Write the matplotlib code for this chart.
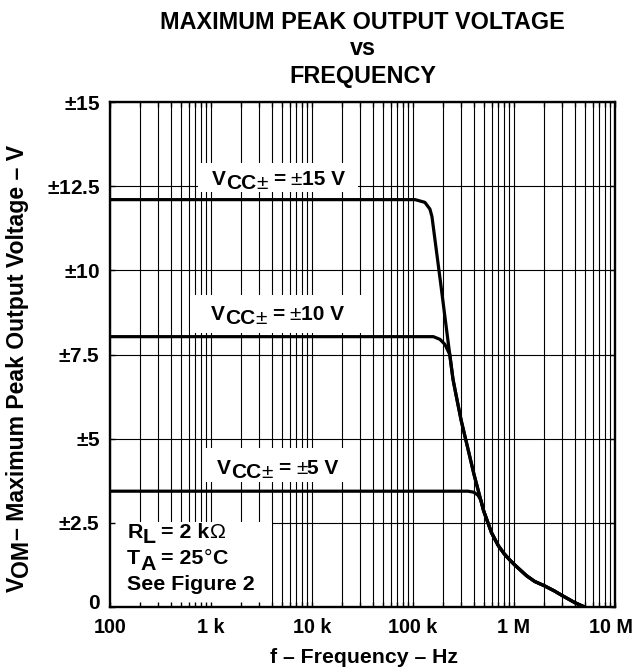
import matplotlib
matplotlib.use("Agg")
import matplotlib.pyplot as plt
from matplotlib.patches import Rectangle
from matplotlib.transforms import ScaledTranslation

plt.rcParams['font.family'] = ['Liberation Sans', 'DejaVu Sans']
plt.rcParams['font.weight'] = 'bold'
plt.rcParams['mathtext.fontset'] = 'custom'
plt.rcParams['mathtext.rm'] = 'Liberation Sans'
plt.rcParams['mathtext.it'] = 'Liberation Sans:bold'
plt.rcParams['mathtext.bf'] = 'Liberation Sans:bold'

# ---------------- data ----------------
x_ticks = [1e2, 1e3, 1e4, 1e5, 1e6, 1e7]
x_tick_labels = ["100", "1 k", "10 k", "100 k", "1 M", "10 M"]
x_minor = [m * 10 ** k for k in range(2, 7) for m in range(2, 10)]
y_ticks = [0, 2.5, 5, 7.5, 10, 12.5, 15]
y_tick_labels = [r"$\mathbf{0}$", r"$\pm\mathbf{2.5}$", r"$\pm\mathbf{5}$",
                 r"$\pm\mathbf{7.5}$", r"$\pm\mathbf{10}$", r"$\pm\mathbf{12.5}$",
                 r"$\pm\mathbf{15}$"]

freq_15 = [100, 105e3, 131e3, 147e3, 154e3, 190e3, 220e3, 249e3, 275e3, 300e3,
           353e3, 400e3, 461e3, 500e3, 600e3, 700e3, 800e3, 900e3, 1e6, 1.33e6,
           1.6e6, 2e6, 2.5e6, 3e6, 4e6, 5e6]
vom_15 = [12.1, 12.1, 12.02, 11.82, 11.6, 9.5, 8.0, 6.76, 6.1, 5.54,
          4.65, 3.96, 3.26, 2.86, 2.20, 1.82, 1.58, 1.41, 1.27, 0.93,
          0.76, 0.63, 0.48, 0.34, 0.13, 0.0]

freq_10 = [100, 159e3, 185e3, 207e3, 231e3, 249e3, 275e3, 300e3,
           353e3, 400e3, 461e3, 500e3, 600e3, 700e3, 800e3, 900e3, 1e6, 1.33e6,
           1.6e6, 2e6, 2.5e6, 3e6, 4e6, 5e6]
vom_10 = [8.03, 8.03, 7.95, 7.8, 7.5, 6.76, 6.1, 5.54,
          4.65, 3.96, 3.26, 2.86, 2.20, 1.82, 1.58, 1.41, 1.27, 0.93,
          0.76, 0.63, 0.48, 0.34, 0.13, 0.0]

freq_5 = [100, 350e3, 400e3, 440e3, 470e3, 500e3, 600e3, 700e3, 800e3, 900e3,
          1e6, 1.33e6, 1.6e6, 2e6, 2.5e6, 3e6, 4e6, 5e6]
vom_5 = [3.44, 3.44, 3.41, 3.32, 3.17, 2.86, 2.20, 1.82, 1.58, 1.41,
         1.27, 0.93, 0.76, 0.63, 0.48, 0.34, 0.13, 0.0]

title_lines = ["MAXIMUM PEAK OUTPUT VOLTAGE", "vs", "FREQUENCY"]

# ---------------- figure ----------------
W, H = 635, 669
fig = plt.figure(figsize=(W / 100, H / 100), dpi=100)
ax = fig.add_axes([110 / W, 62 / H, 505 / W, 505 / H])
ax.set_xscale('log')
ax.set_xlim(1e2, 1e7)
ax.set_ylim(0, 15)

ax.set_xticks(x_ticks)
ax.set_xticklabels(x_tick_labels, fontsize=14.2, fontweight='bold')
ax.set_xticks(x_minor, minor=True)
ax.set_xticklabels([], minor=True)
ax.set_yticks(y_ticks)
ax.set_yticklabels(y_tick_labels, fontsize=15)

ax.tick_params(which='both', direction='in', top=True, right=True,
               length=3.6, width=1.0)
ax.tick_params(axis='x', which='major', pad=8)
ax.tick_params(axis='y', which='major', pad=7)
for sp_ in ax.spines.values():
    sp_.set_linewidth(1.7)

# nudge the edge labels (last x label inside the figure, "0" a bit up)
last_tick = ax.xaxis.get_major_ticks()[-1]
last_tick.label1.set_transform(last_tick.label1.get_transform() +
                               ScaledTranslation(-3 / 72, 0, fig.dpi_scale_trans))
zero_tick = ax.yaxis.get_major_ticks()[0]
zero_tick.label1.set_transform(zero_tick.label1.get_transform() +
                               ScaledTranslation(0, 4 / 72, fig.dpi_scale_trans))

# grid lines drawn below the label boxes
for xv in x_ticks + x_minor:
    ax.axvline(xv, color='black', lw=0.8, zorder=0.5)
for yv in y_ticks:
    ax.axhline(yv, color='black', lw=0.8, zorder=0.5)

# curves
for f, v in [(freq_15, vom_15), (freq_10, vom_10), (freq_5, vom_5)]:
    ax.plot(f, v, color='black', lw=2.3, solid_joinstyle='round',
            solid_capstyle='round', zorder=2)

# white boxes behind labels (axes fraction)
boxes = [
    (0.174, 0.822, 0.317, 0.057),
    (0.158, 0.543, 0.347, 0.075),
    (0.184, 0.248, 0.291, 0.067),
    (0.0, 0.0, 0.321, 0.168),
]
for bx, by, bw, bh in boxes:
    ax.add_patch(Rectangle((bx, by), bw, bh, transform=ax.transAxes,
                           facecolor='white', edgecolor='none', zorder=1))


def chain(x, y, pieces, size=15):
    """pieces: list of (text, dx_pt, dy_pt, weight) relative to previous piece."""
    s0, _, _, w0 = pieces[0]
    prev = ax.text(x, y, s0, transform=ax.transAxes, fontsize=size,
                   fontweight=w0, ha='left', va='baseline', zorder=4)
    for s, dx, dy, w in pieces[1:]:
        prev = ax.annotate(s, xy=(1, 0), xycoords=prev, xytext=(dx, dy),
                           textcoords='offset points', fontsize=size,
                           fontweight=w, ha='left', va='bottom', zorder=4)
    return prev


sp = 4.0
B, N = 'bold', 'normal'
for xa, ya, val in [(0.202, 0.836, "15 V"), (0.200, 0.568, "10 V"),
                    (0.212, 0.263, "5 V")]:
    chain(xa, ya, [("V", 0, 0, B), ("CC", 0, -3, B), ("±", 0, 0, N),
                   ("=", sp, 3, B), ("±", sp, 0, N), (val, 0, 0, B)])

chain(0.034, 0.137, [("R", 0, 0, B), ("L", 0, -4, B), ("= 2 k", sp, 4, B),
                     ("Ω", 0, 0, N)], size=15.4)
chain(0.034, 0.085, [("T", 0, 0, B), ("A", 0, -4, B), ("= 25", sp, 4, B),
                     ("°", 0, 0, N), ("C", 0, 0, B)], size=15.4)
ax.text(0.034, 0.034, "See Figure 2", transform=ax.transAxes, fontsize=15.4,
        fontweight='bold', ha='left', va='baseline', zorder=4)

# title
cx = 362.5 / W
for line, yb in zip(title_lines, [29, 55, 83]):
    fig.text(cx, 1 - yb / H, line, fontsize=16.8, fontweight='bold',
             ha='center', va='baseline')

# x label
fig.text(364 / W, 1 - 663 / H, "f – Frequency – Hz", fontsize=15.3,
         fontweight='bold', ha='center', va='baseline')

# y label (rotated, chained for the subscript)
t0 = fig.text(29 / W, 1 - 592 / H, "V", rotation=90, fontsize=16.6,
              fontweight='bold', ha='right', va='bottom')
ann1 = ax.annotate("OM", xy=(1, 1), xycoords=t0, xytext=(3, 0),
                   textcoords='offset points', rotation=90, fontsize=16.6,
                   fontweight='bold', ha='right', va='bottom',
                   annotation_clip=False)
ann2 = ax.annotate("– Maximum Peak Output Voltage – V", xy=(1, 1), xycoords=ann1,
                   xytext=(-3, 0), textcoords='offset points', rotation=90,
                   fontsize=16.6, fontweight='bold', ha='right', va='bottom',
                   annotation_clip=False)

fig.savefig("out.png", dpi=100)
